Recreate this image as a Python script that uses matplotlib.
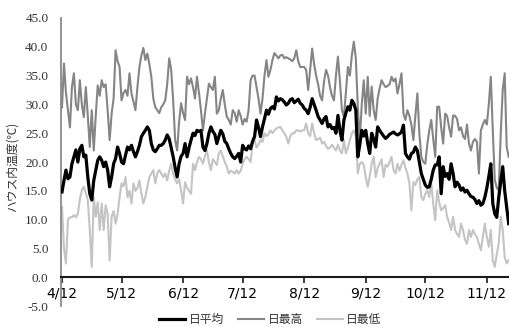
import matplotlib
matplotlib.use("Agg")
import matplotlib.pyplot as plt
import numpy as np
import pandas as pd

# Daily greenhouse air temperature (°C), starting 4/12
t_avg = [
    14.8, 16.8, 18.6, 17.1, 17.4, 19.7, 20.9, 22.1, 20.0, 22.3,
    22.9, 20.9, 21.2, 17.4, 14.5, 13.4, 16.8, 18.6, 20.3, 20.9,
    20.3, 19.2, 20.0, 18.6, 15.7, 17.4, 19.7, 20.6, 22.6, 21.5,
    20.0, 19.7, 21.2, 22.6, 22.1, 22.9, 21.8, 20.9, 21.8, 22.9,
    24.4, 25.0, 25.5, 26.1, 25.5, 23.2, 22.1, 21.8, 22.3, 22.9,
    22.9, 23.2, 23.8, 24.7, 24.0, 22.5, 20.9, 19.0, 17.4, 19.7,
    21.0, 21.5, 23.2, 20.9, 22.5, 23.8, 25.0, 24.6, 25.5, 25.3,
    25.5, 22.6, 22.0, 23.2, 25.0, 26.1, 25.3, 24.8, 23.2, 24.4,
    25.5, 24.9, 23.6, 23.2, 22.3, 21.5, 20.9, 20.6, 21.0, 21.5,
    20.0, 22.9, 22.3, 22.1, 22.8, 22.3, 23.6, 24.4, 27.3, 26.0,
    24.4, 26.1, 27.5, 29.0, 28.3, 29.3, 29.6, 29.2, 31.3, 30.6,
    31.0, 30.8, 30.4, 29.9, 30.2, 30.8, 31.0, 30.3, 30.6, 30.9,
    30.2, 29.9, 29.3, 29.0, 28.4, 29.5, 31.0, 30.0, 29.0, 27.9,
    27.3, 26.7, 27.5, 27.9, 26.1, 26.5, 25.8, 26.0, 25.0, 28.1,
    25.5, 23.8, 27.3, 28.5, 29.6, 29.0, 30.7, 30.2, 29.0, 20.9,
    23.0, 25.5, 24.5, 25.5, 23.2, 21.5, 25.0, 24.0, 22.6, 26.1,
    25.5, 25.0, 24.5, 24.1, 24.4, 24.8, 25.0, 25.2, 24.9, 24.7,
    24.9, 25.2, 26.4, 21.5, 20.9, 20.5, 21.5, 21.7, 22.6, 22.0,
    20.0, 18.0, 17.0, 16.0, 15.6, 15.7, 17.0, 18.6, 19.5, 19.5,
    20.9, 14.5, 19.2, 17.5, 18.0, 17.0, 19.7, 18.0, 15.7, 16.5,
    16.0, 15.1, 15.5, 14.8, 15.1, 14.5, 14.0, 13.9, 13.5, 12.8,
    13.3, 12.5, 12.8, 13.9, 15.5, 17.5, 19.7, 12.8, 11.0, 10.4,
    13.9, 16.5, 19.2, 15.0, 12.2, 9.3,
]

t_max = [
    29.5, 37.1, 32.0, 29.0, 26.0, 33.0, 35.4, 30.0, 29.0, 34.2,
    30.0, 27.8, 33.0, 28.0, 22.6, 29.0, 22.0, 28.0, 33.3, 31.5,
    34.2, 33.0, 33.5, 29.0, 23.8, 28.4, 31.0, 39.4, 37.5, 36.5,
    30.7, 32.0, 32.5, 31.5, 35.4, 31.9, 30.5, 29.0, 33.0, 36.5,
    38.5, 39.8, 37.7, 38.8, 37.0, 34.8, 31.0, 29.5, 29.0, 28.5,
    29.5, 30.0, 30.7, 33.5, 38.0, 36.0, 30.7, 23.8, 22.0, 27.0,
    30.2, 28.5, 27.3, 34.8, 33.5, 34.5, 33.0, 31.0, 34.8, 32.0,
    29.0, 25.5, 28.4, 31.0, 33.6, 33.0, 32.5, 34.8, 28.4, 29.0,
    31.0, 32.5, 30.0, 27.9, 27.3, 26.5, 29.0, 28.5, 27.0, 29.0,
    28.0, 26.5, 27.5, 27.0, 29.0, 34.2, 35.0, 35.0, 33.0, 31.0,
    28.4, 31.0, 35.0, 37.7, 34.8, 36.0, 37.7, 38.9, 38.5, 38.0,
    38.5, 38.6, 38.0, 38.2, 38.0, 37.8, 37.5, 38.0, 39.4, 37.5,
    36.5, 36.5, 36.5, 36.0, 32.5, 36.0, 39.7, 37.0, 35.0, 33.5,
    31.5, 30.7, 34.0, 36.0, 35.0, 33.0, 31.5, 30.7, 35.0, 38.3,
    34.0, 29.0, 27.9, 32.0, 36.5, 35.0, 38.5, 40.9, 38.0, 29.6,
    23.8, 30.0, 34.2, 28.4, 34.8, 28.0, 33.1, 29.0, 27.3, 31.0,
    32.8, 34.2, 33.5, 33.0, 33.2, 33.5, 34.8, 34.0, 34.5, 31.9,
    33.5, 35.4, 28.4, 27.3, 29.0, 28.0, 26.5, 23.8, 28.0, 31.9,
    25.0, 20.9, 20.0, 19.7, 23.0, 25.5, 27.3, 24.0, 20.9, 29.6,
    29.6, 26.0, 23.2, 28.4, 28.0, 26.0, 24.4, 28.1, 28.0, 27.5,
    25.5, 26.0, 24.5, 24.0, 26.5, 23.2, 22.0, 23.5, 24.0, 23.5,
    18.0, 25.5, 26.5, 27.3, 26.5, 30.0, 34.8, 25.5, 16.9, 15.5,
    15.1, 25.0, 32.5, 35.4, 22.6, 20.9,
]

t_min = [
    12.2, 5.0, 2.4, 10.0, 10.4, 10.4, 10.8, 10.4, 11.0, 13.5,
    15.1, 15.7, 14.6, 13.4, 8.2, 1.8, 13.9, 10.5, 13.0, 8.2,
    12.8, 8.2, 12.5, 11.0, 2.9, 10.5, 11.5, 9.3, 11.0, 13.9,
    16.3, 15.8, 17.4, 13.9, 15.0, 12.8, 16.3, 15.0, 15.5, 16.8,
    14.5, 12.8, 14.0, 15.7, 17.4, 18.0, 18.6, 16.3, 18.0, 18.6,
    18.0, 17.4, 18.0, 16.8, 18.5, 19.7, 18.0, 17.0, 16.3, 17.0,
    15.1, 12.8, 16.5, 15.5, 15.0, 14.5, 19.7, 18.6, 20.0, 20.9,
    20.5, 19.7, 21.0, 22.0, 20.0, 18.6, 20.5, 20.0, 19.5, 21.5,
    22.0, 21.0, 20.0, 19.2, 18.0, 18.5, 18.3, 18.0, 18.6, 18.0,
    18.5, 19.7, 20.5, 20.9, 20.5, 20.0, 23.2, 23.8, 22.5, 23.0,
    23.8, 23.5, 25.0, 24.5, 24.8, 25.5, 25.0, 25.5, 25.8, 26.0,
    26.1, 25.5, 25.0, 24.4, 23.2, 24.5, 25.0, 25.0, 25.5, 25.5,
    25.3, 25.5, 25.5, 26.7, 25.0, 24.5, 26.7, 25.0, 23.8, 24.0,
    24.2, 23.2, 23.5, 22.8, 22.3, 22.5, 23.0, 22.5, 22.0, 23.0,
    22.0, 21.5, 23.8, 21.5, 22.5, 23.8, 25.0, 25.5, 24.5, 18.0,
    19.7, 20.0, 19.5, 17.4, 15.7, 17.5, 19.7, 20.9, 17.4, 19.0,
    19.7, 20.5, 17.4, 19.5, 19.2, 20.0, 20.9, 18.6, 18.0, 19.7,
    18.5, 19.5, 20.3, 19.0, 18.0, 16.3, 11.6, 16.5, 16.0, 17.0,
    17.4, 13.9, 13.4, 14.5, 15.1, 13.9, 16.3, 12.8, 9.9, 15.1,
    13.0, 11.6, 12.0, 12.5, 10.5, 9.5, 8.2, 10.5, 8.2, 7.5,
    7.0, 9.3, 8.2, 6.5, 5.8, 8.2, 7.0, 8.2, 7.5, 7.0,
    5.8, 4.7, 7.0, 9.3, 7.0, 5.3, 8.2, 2.9, 1.8, 4.0,
    5.8, 10.5, 8.2, 3.5, 2.4, 3.0,
]

series_labels = ["日平均", "日最高", "日最低"]
y_label = "ハウス内温度(℃)"
month_ticks = ["4/12", "5/12", "6/12", "7/12", "8/12", "9/12", "10/12", "11/12"]

dates = pd.date_range("2014-04-12", periods=len(t_avg), freq="D")
tick_dates = pd.to_datetime(["2014-" + s.replace("/", "-") for s in month_ticks])

jp = ["Noto Sans CJK JP", "DejaVu Sans"]
num_font = "Liberation Serif"

fig = plt.figure(figsize=(5.10, 3.27), dpi=100)
ax = fig.add_axes([0.1196, 0.064, 0.8804, 0.881])

ax.plot(dates, t_avg, color="#000000", lw=2.3, label=series_labels[0], zorder=3)
ax.plot(dates, t_max, color="#858585", lw=1.5, label=series_labels[1], zorder=2)
ax.plot(dates, t_min, color="#c4c4c4", lw=1.5, label=series_labels[2], zorder=1)

ax.set_ylim(-5, 45)
ax.set_yticks(np.arange(-5, 46, 5))
ax.set_yticklabels([f"{v:.1f}" for v in np.arange(-5, 46, 5)],
                   fontfamily=num_font, fontsize=9.5, color="#333333")
ax.set_xlim(dates[0] - pd.Timedelta(hours=12), dates[-1] + pd.Timedelta(hours=16))
ax.set_xticks(tick_dates)
ax.set_xticklabels(month_ticks, fontfamily=num_font, fontsize=9.5, color="#333333")

for side in ("top", "right"):
    ax.spines[side].set_visible(False)
ax.spines["left"].set_color("#8a8a8a")
ax.spines["left"].set_linewidth(1.3)
ax.spines["bottom"].set_position(("data", 0))
ax.spines["bottom"].set_color("#1a1a1a")
ax.spines["bottom"].set_linewidth(1.5)

ax.tick_params(axis="y", length=0, pad=9)
ax.tick_params(axis="x", direction="out", length=4, width=1.2, color="#1a1a1a", pad=3)

fig.text(0.024, 0.49, y_label, rotation=90, ha="center", va="center",
         fontsize=8.5, family=jp, color="#333333")

leg = fig.legend(loc="center", bbox_to_anchor=(0.53, 0.022), ncol=3, frameon=False,
                 prop={"family": jp, "size": 8.5}, handlelength=2.2,
                 columnspacing=1.2, handletextpad=0.3, borderaxespad=0)
for txt in leg.get_texts():
    txt.set_color("#333333")

fig.savefig("out.png", dpi=100, facecolor="white")
